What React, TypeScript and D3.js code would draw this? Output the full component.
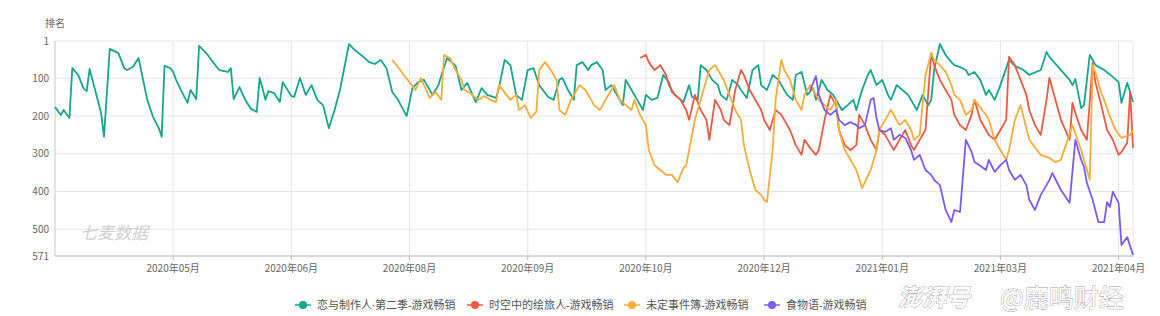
import React from "react";
import * as d3 from "d3";

// ---------- data ----------
const domainStart = "2020-04-09";
const domainEnd = "2021-04-18";
const tickDates = ["2020-05-20", "2020-06-30", "2020-08-10", "2020-09-20", "2020-10-31", "2020-12-11", "2021-01-21", "2021-03-03", "2021-04-13"];
const yTicks = [1, 100, 200, 300, 400, 500, 571];
const seriesNames = ["恋与制作人·第二季-游戏畅销", "时空中的绘旅人-游戏畅销", "未定事件簿-游戏畅销", "食物语-游戏畅销"];
const seriesColors = ["#17a58f", "#ec5a43", "#f6ad3c", "#7a5cf0"];

const lianyu: [string, number][] = [
  ["2020-04-09",176],["2020-04-11",197],["2020-04-12",184],["2020-04-14",205],["2020-04-15",73],["2020-04-17",91],["2020-04-19",128],["2020-04-20",134],["2020-04-21",75],["2020-04-25",192],["2020-04-26",255],["2020-04-28",22],["2020-05-01",33],["2020-05-03",73],["2020-05-04",78],["2020-05-06",70],["2020-05-08",46],["2020-05-11",157],["2020-05-13",202],["2020-05-15",232],["2020-05-16",255],["2020-05-17",67],["2020-05-19",73],["2020-05-20",83],["2020-05-21",104],["2020-05-23",136],["2020-05-25",165],["2020-05-26",131],["2020-05-28",155],["2020-05-29",14],["2020-06-01",38],["2020-06-03",59],["2020-06-05",78],["2020-06-08",83],["2020-06-09",73],["2020-06-10",155],["2020-06-12",123],["2020-06-14",157],["2020-06-16",181],["2020-06-18",189],["2020-06-19",99],["2020-06-20",126],["2020-06-21",157],["2020-06-22",134],["2020-06-24",139],["2020-06-26",163],["2020-06-27",110],["2020-06-30",147],["2020-07-01",149],["2020-07-03",99],
  ["2020-07-05",144],["2020-07-07",118],["2020-07-09",157],["2020-07-11",171],["2020-07-13",232],["2020-07-15",184],["2020-07-17",126],["2020-07-20",9],["2020-07-22",25],["2020-07-25",43],["2020-07-27",57],["2020-07-29",62],["2020-07-31",51],["2020-08-02",73],["2020-08-04",136],["2020-08-06",157],["2020-08-09",200],["2020-08-11",126],["2020-08-13",110],["2020-08-15",104],["2020-08-18",144],["2020-08-20",118],["2020-08-23",46],["2020-08-26",67],["2020-08-28",131],["2020-08-30",112],["2020-09-02",163],["2020-09-04",126],["2020-09-06",144],["2020-09-09",152],["2020-09-10",126],["2020-09-12",51],["2020-09-14",65],["2020-09-16",144],["2020-09-18",157],
  ["2020-09-20",78],["2020-09-22",73],["2020-09-24",118],["2020-09-27",149],["2020-09-29",157],["2020-10-01",104],["2020-10-02",99],["2020-10-04",131],["2020-10-06",157],["2020-10-07",65],["2020-10-09",57],["2020-10-11",78],["2020-10-12",65],["2020-10-14",57],["2020-10-16",78],["2020-10-17",131],["2020-10-19",118],["2020-10-21",144],["2020-10-23",171],["2020-10-24",104],["2020-10-26",131],["2020-10-28",157],["2020-10-30",184],["2020-10-31",144],["2020-11-02",157],["2020-11-04",152],["2020-11-06",91],["2020-11-08",110],["2020-11-09",136],["2020-11-11",149],["2020-11-13",163],["2020-11-15",118],["2020-11-16",149],["2020-11-18",157],["2020-11-19",65],["2020-11-21",78],["2020-11-23",104],["2020-11-25",118],["2020-11-26",144],["2020-11-28",157],["2020-11-30",104],["2020-12-02",118],["2020-12-03",131],["2020-12-05",152],["2020-12-07",78],["2020-12-09",65],["2020-12-10",118],["2020-12-12",131],["2020-12-14",91],["2020-12-16",104],["2020-12-17",118],["2020-12-19",144],["2020-12-21",157],["2020-12-22",91],["2020-12-24",83],["2020-12-26",144],["2020-12-28",126],["2020-12-29",157],["2020-12-31",104],
  ["2021-01-02",131],["2021-01-04",144],["2021-01-05",157],["2021-01-07",184],["2021-01-09",171],["2021-01-11",157],["2021-01-12",184],["2021-01-14",131],["2021-01-16",91],["2021-01-17",78],["2021-01-19",118],["2021-01-21",104],["2021-01-23",144],["2021-01-24",157],["2021-01-26",118],["2021-01-28",131],["2021-01-30",144],["2021-01-31",157],["2021-02-02",184],["2021-02-04",144],["2021-02-06",171],["2021-02-07",157],["2021-02-08",78],["2021-02-10",9],["2021-02-12",38],["2021-02-14",57],["2021-02-15",65],["2021-02-17",70],["2021-02-19",78],["2021-02-20",91],["2021-02-22",83],["2021-02-24",104],["2021-02-26",144],["2021-02-27",131],["2021-03-01",157],["2021-03-03",118],["2021-03-06",51],["2021-03-08",67],["2021-03-11",78],["2021-03-13",91],["2021-03-17",78],["2021-03-19",30],["2021-03-20",43],["2021-03-27",104],["2021-03-28",118],["2021-03-29",102],["2021-03-31",179],["2021-04-01",171],["2021-04-03",38],["2021-04-05",65],["2021-04-08",78],["2021-04-11",96],["2021-04-13",110],["2021-04-14",165],["2021-04-16",112],["2021-04-17",136],["2021-04-18",163]
];

const huilvren: [string, number][] = [
  ["2020-10-29",46],["2020-10-31",38],["2020-11-01",57],["2020-11-03",78],["2020-11-05",65],["2020-11-07",91],["2020-11-08",118],["2020-11-10",144],["2020-11-12",157],["2020-11-14",184],["2020-11-15",210],["2020-11-17",144],["2020-11-19",184],["2020-11-21",210],["2020-11-22",263],["2020-11-24",157],["2020-11-26",184],["2020-11-27",210],["2020-11-29",224],["2020-12-01",131],["2020-12-03",78],["2020-12-04",91],["2020-12-06",131],["2020-12-08",157],["2020-12-10",184],["2020-12-11",210],["2020-12-13",237],["2020-12-15",184],["2020-12-17",197],["2020-12-18",210],["2020-12-20",237],["2020-12-22",277],["2020-12-24",303],["2020-12-25",263],["2020-12-27",285],["2020-12-29",303],["2020-12-30",290],
  ["2021-01-01",210],["2021-01-03",144],["2021-01-05",171],["2021-01-06",237],["2021-01-08",277],["2021-01-10",290],["2021-01-12",277],["2021-01-13",197],["2021-01-15",224],["2021-01-17",263],["2021-01-19",290],["2021-01-20",237],["2021-01-22",250],["2021-01-24",277],["2021-01-25",290],["2021-01-27",263],["2021-01-29",237],["2021-01-31",277],["2021-02-01",290],["2021-02-03",263],["2021-02-05",237],["2021-02-07",33],["2021-02-08",65],["2021-02-10",104],["2021-02-12",131],["2021-02-14",157],["2021-02-15",197],["2021-02-17",224],["2021-02-19",237],["2021-02-21",197],["2021-02-22",157],["2021-02-24",210],["2021-02-26",237],["2021-02-27",250],["2021-03-01",263],["2021-03-03",237],["2021-03-05",210],["2021-03-06",43],["2021-03-08",65],["2021-03-10",104],["2021-03-12",144],["2021-03-13",184],["2021-03-15",224],["2021-03-17",250],["2021-03-19",157],["2021-03-20",99],["2021-03-24",210],["2021-03-27",263],["2021-03-28",165],["2021-03-29",192],["2021-03-31",237],["2021-04-02",263],["2021-04-04",59],["2021-04-05",112],["2021-04-07",171],["2021-04-09",237],["2021-04-11",263],["2021-04-13",303],["2021-04-14",295],["2021-04-16",271],["2021-04-17",136],["2021-04-18",285]
];

const weiding: [string, number][] = [
  ["2020-08-04",51],["2020-08-06",70],["2020-08-08",91],["2020-08-10",110],["2020-08-12",131],["2020-08-14",99],["2020-08-15",118],["2020-08-17",152],["2020-08-19",136],["2020-08-21",157],["2020-08-22",38],["2020-08-24",46],["2020-08-26",78],["2020-08-28",104],["2020-08-29",131],["2020-08-31",139],["2020-09-02",152],["2020-09-03",157],["2020-09-05",147],["2020-09-07",157],["2020-09-09",163],["2020-09-10",118],["2020-09-14",157],["2020-09-16",144],["2020-09-17",184],["2020-09-19",171],["2020-09-21",205],["2020-09-23",189],["2020-09-24",78],["2020-09-26",57],["2020-09-28",78],["2020-09-30",104],["2020-10-01",184],["2020-10-03",197],["2020-10-05",157],["2020-10-06",144],["2020-10-08",118],["2020-10-10",131],["2020-10-12",157],["2020-10-13",171],["2020-10-15",184],["2020-10-17",157],["2020-10-19",131],["2020-10-20",118],["2020-10-22",157],["2020-10-24",171],["2020-10-26",184],["2020-10-27",157],["2020-10-29",197],["2020-10-31",224],
  ["2020-11-01",290],["2020-11-03",330],["2020-11-05",343],["2020-11-07",356],["2020-11-09",356],["2020-11-11",375],["2020-11-13",338],["2020-11-14",330],["2020-11-15",290],["2020-11-17",210],["2020-11-19",157],["2020-11-21",104],["2020-11-22",78],["2020-11-24",65],["2020-11-26",91],["2020-11-27",104],["2020-11-29",144],["2020-12-01",184],["2020-12-03",210],["2020-12-04",277],["2020-12-06",343],["2020-12-08",396],["2020-12-10",409],["2020-12-11",422],["2020-12-12",428],["2020-12-14",290],["2020-12-15",157],["2020-12-17",51],["2020-12-18",78],["2020-12-20",104],["2020-12-22",157],["2020-12-24",184],["2020-12-25",144],["2020-12-27",118],["2020-12-29",144],["2020-12-30",157],
  ["2021-01-01",171],["2021-01-03",184],["2021-01-05",157],["2021-01-06",237],["2021-01-08",290],["2021-01-10",316],["2021-01-12",343],["2021-01-14",391],["2021-01-17",343],["2021-01-19",290],["2021-01-20",237],["2021-01-22",210],["2021-01-24",184],["2021-01-25",197],["2021-01-27",224],["2021-01-29",210],["2021-01-31",237],["2021-02-01",263],["2021-02-03",250],["2021-02-05",91],["2021-02-07",33],["2021-02-08",51],["2021-02-10",65],["2021-02-12",83],["2021-02-14",118],["2021-02-15",144],["2021-02-17",157],["2021-02-19",197],["2021-02-21",184],["2021-02-22",157],["2021-02-26",197],["2021-02-27",210],["2021-03-01",263],["2021-03-03",290],["2021-03-05",316],["2021-03-06",290],["2021-03-08",210],["2021-03-10",171],["2021-03-13",263],["2021-03-17",303],["2021-03-20",311],["2021-03-22",322],["2021-03-24",316],["2021-03-28",224],["2021-03-31",290],["2021-04-03",369],["2021-04-04",65],["2021-04-05",86],["2021-04-07",139],["2021-04-08",157],["2021-04-10",202],["2021-04-12",237],["2021-04-14",258],["2021-04-15",255],["2021-04-17",250],["2021-04-18",237]
];

const shiwuyu: [string, number][] = [
  ["2020-12-27",131],["2020-12-29",94],["2020-12-30",144],["2021-01-01",184],["2021-01-03",197],["2021-01-05",184],["2021-01-06",210],["2021-01-08",224],["2021-01-10",216],["2021-01-12",224],["2021-01-13",232],["2021-01-15",224],["2021-01-17",157],["2021-01-18",152],["2021-01-19",205],["2021-01-20",237],["2021-01-22",242],["2021-01-24",232],["2021-01-25",263],["2021-01-27",250],["2021-01-29",258],["2021-01-31",290],["2021-02-01",316],["2021-02-03",303],["2021-02-05",343],["2021-02-07",356],["2021-02-08",369],["2021-02-10",383],["2021-02-12",449],["2021-02-14",481],["2021-02-15",449],["2021-02-17",454],["2021-02-19",263],["2021-02-21",295],["2021-02-22",322],["2021-02-24",332],["2021-02-26",343],["2021-02-27",316],["2021-03-01",348],["2021-03-03",330],["2021-03-05",316],["2021-03-06",343],["2021-03-08",369],["2021-03-10",356],["2021-03-12",383],["2021-03-13",422],["2021-03-15",449],["2021-03-17",409],["2021-03-19",383],["2021-03-20",369],["2021-03-21",351],["2021-03-24",396],["2021-03-27",430],["2021-03-29",263],["2021-03-31",316],["2021-04-01",335],["2021-04-02",377],["2021-04-04",422],["2021-04-06",481],["2021-04-08",481],["2021-04-09",428],["2021-04-10",441],["2021-04-11",401],["2021-04-13",430],["2021-04-14",542],["2021-04-16",521],["2021-04-18",568]
];

const allSeries = [lianyu, huilvren, weiding, shiwuyu];

// ---------- layout ----------
const W = 1160, H = 316;
const L = 55, R = 1133, T = 41, B = 256;
const FONT = "'Noto Sans CJK SC', 'Noto Sans', sans-serif";
const LEGEND_FONT = "'Noto Sans', 'Noto Sans CJK SC', sans-serif";
const legendMarkerX = [303, 475, 632, 772];

export default function App() {
  const parse = d3.timeParse("%Y-%m-%d");
  const x = d3.scaleTime().domain([parse(domainStart)!, parse(domainEnd)!]).range([L, R]);
  const y = d3.scaleLinear().domain([1, 571]).range([T, B]);
  const fmt = d3.timeFormat("%Y年%m月");
  const line = d3.line<[string, number]>().x(d => x(parse(d[0])!)).y(d => y(d[1]));

  return (
    <svg width={W} height={H} style={{ position: "absolute", left: 0, top: 0, background: "#fff" }} fontFamily={FONT}>
      <rect x={0} y={0} width={W} height={H} fill="#ffffff" />
      {/* y axis title */}
      <text x={L} y={27} textAnchor="middle" fontSize={10} fill="#666">排名</text>
      {/* horizontal grid */}
      {yTicks.map(t => (
        <g key={"y" + t}>
          <line x1={L} x2={R} y1={y(t)} y2={y(t)} stroke="#e6e6e6" strokeWidth={1} />
          <text x={L - 6} y={y(t) + 3.5} textAnchor="end" fontSize={10} fill="#666">{t}</text>
        </g>
      ))}
      {/* vertical grid */}
      {tickDates.map(s => {
        const px = x(parse(s)!);
        return (
          <g key={"x" + s}>
            <line x1={px} x2={px} y1={T} y2={B} stroke="#e6e6e6" strokeWidth={1} />
            <line x1={px} x2={px} y1={B} y2={B + 4} stroke="#bbb" strokeWidth={1} />
            <text x={px} y={B + 16} textAnchor="middle" fontSize={10} fill="#666">{fmt(parse(s)!)}</text>
          </g>
        );
      })}
      <line x1={R} x2={R} y1={T} y2={B} stroke="#e6e6e6" />
      <line x1={L} x2={L} y1={T} y2={B} stroke="#c8c8c8" />
      <line x1={L} x2={R} y1={B} y2={B} stroke="#bdbdbd" />
      {/* watermark */}
      <text x={80} y={239} fontSize={17} fill="#cfcfcf" fontStyle="italic">七麦数据</text>
      {/* series */}
      {allSeries.map((s, i) => (
        <path key={"s" + i} d={line(s) || ""} fill="none" stroke={seriesColors[i]} strokeWidth={1.8} strokeLinejoin="round" />
      ))}
      {/* legend */}
      {seriesNames.map((n, i) => (
        <g key={"lg" + i}>
          <line x1={legendMarkerX[i] - 8} x2={legendMarkerX[i] + 8} y1={305} y2={305} stroke={seriesColors[i]} strokeWidth={1.5} />
          <circle cx={legendMarkerX[i]} cy={305} r={4} fill={seriesColors[i]} />
          <text x={legendMarkerX[i] + 14} y={309} fontSize={11} fill="#555" fontFamily={LEGEND_FONT}>{n}</text>
        </g>
      ))}
      {/* source watermark */}
      <g fill="#ffffff" stroke="#9a9a9a" strokeWidth={0.8} style={{ paintOrder: "stroke" }}>
        <text x={898} y={306} fontSize={24} fontStyle="italic" fontWeight="bold">澎湃号</text>
        <text x={1000} y={307} fontSize={25}>@鹿鸣财经</text>
      </g>
    </svg>
  );
}
